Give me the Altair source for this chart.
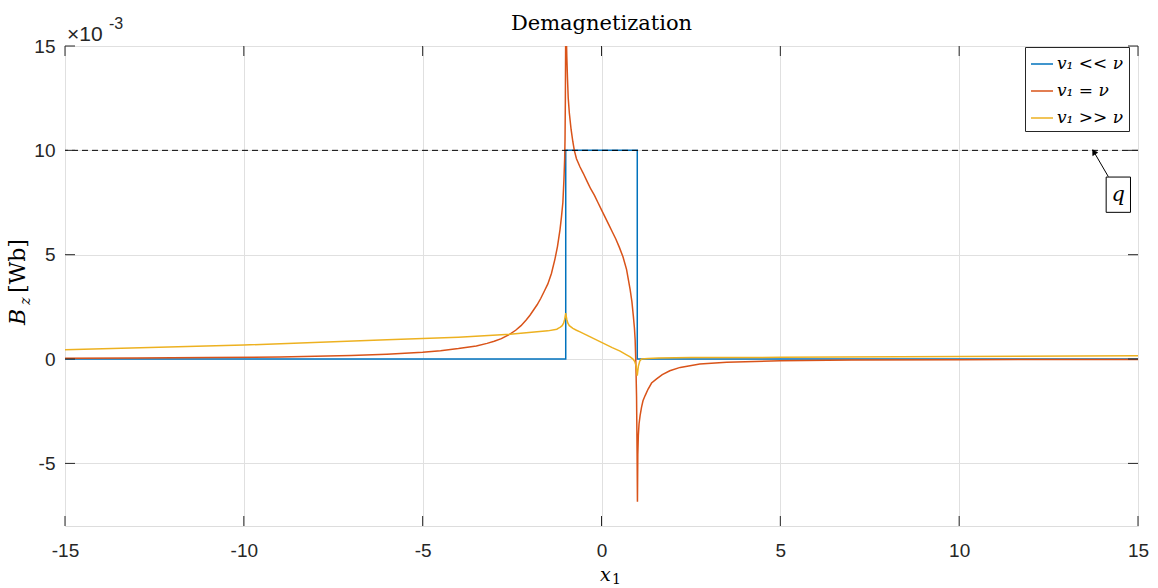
import altair as alt
import pandas as pd

# ---------------- data (y values in units of 1e-3 Wb) ----------------
series_names = ["v₁ << ν", "v₁ = ν", "v₁ >> ν"]
series_colors = ["#0072BD", "#D95319", "#EDB120"]

blue_x = [-15, -1, -1, 1, 1, 15]
blue_y = [0, 0, 10, 10, 0, 0]

orange_x = [-15, -13, -11, -9, -7, -6, -5, -4.5, -4, -3.5, -3.2, -3, -2.8, -2.56, -2.4,
            -2.25, -2.1, -2.0, -1.9, -1.8, -1.7, -1.6, -1.5, -1.4, -1.3, -1.23, -1.16,
            -1.12, -1.08, -1.05, -1.03, -1.02, -1.01, -1.0,
            -0.99, -0.97, -0.95, -0.93, -0.9, -0.85, -0.8, -0.76, -0.7, -0.6, -0.51,
            -0.4, -0.3, -0.2, -0.1, 0.0, 0.1, 0.2, 0.3, 0.4, 0.5, 0.6,
            0.7, 0.8, 0.85, 0.89, 0.92, 0.94, 0.96, 0.98, 0.995, 1.005, 1.015, 1.03,
            1.05, 1.08, 1.12, 1.16, 1.22, 1.3, 1.4, 1.54, 1.7, 1.91, 2.2, 2.75, 3.5,
            5, 7, 10, 15]
orange_y = [0.04, 0.05, 0.07, 0.1, 0.17, 0.23, 0.32, 0.4, 0.5, 0.63, 0.75, 0.85, 0.98,
            1.19, 1.38, 1.6, 1.88, 2.1, 2.35, 2.6, 2.9, 3.25, 3.6, 4.1, 4.8, 5.4, 6.2,
            6.8, 7.5, 8.6, 9.6, 10.5, 12.5, 16,
            16, 14.5, 13.4, 12.5, 11.8, 11.0, 10.4, 10.0, 9.6, 9.2, 8.9,
            8.5, 8.15, 7.85, 7.5, 7.15, 6.8, 6.45, 6.1, 5.75, 5.35, 4.9,
            4.3, 3.34, 2.75, 2.07, 1.5, 0.95, -0.15, -1.8, -4.5, -6.84, -4.6, -3.66,
            -3.1, -2.7, -2.3, -2.0, -1.75, -1.45, -1.15, -0.95, -0.75, -0.56, -0.4,
            -0.24, -0.15, -0.08, -0.05, -0.03, -0.02]

yellow_x = [-15, -10, -6, -4, -2.56, -1.5, -1.25, -1.2, -1.15, -1.1, -1.06, -1.03, -1.0,
            -0.97, -0.94, -0.9, -0.8, -0.7, -0.6, -0.3, 0, 0.3, 0.52, 0.7, 0.8, 0.88,
            0.93, 0.97, 1.0, 1.03, 1.07, 1.12, 1.3, 1.6, 2.5, 5, 10, 15]
yellow_y = [0.45, 0.67, 0.92, 1.05, 1.19, 1.35, 1.43, 1.48, 1.53, 1.6, 1.72, 1.9, 2.2,
            1.9, 1.72, 1.6, 1.47, 1.38, 1.3, 1.05, 0.8, 0.55, 0.38, 0.2, 0.1, 0.0,
            -0.12, -0.35, -0.8, -0.35, -0.1, 0.0, 0.03, 0.05, 0.07, 0.08, 0.12, 0.16]

q_level = [10]
arrow_x = [14.17, 13.78]
arrow_y = [8.74, 9.89]
box_x = [14.11, 14.79]
box_y = [7.03, 8.72]
q_text_pos = [14.45, 7.87]

x_ticks = [-15, -10, -5, 0, 5, 10, 15]
y_ticks = [-5, 0, 5, 10, 15]
x_domain = [-15, 15]
y_domain = [-8, 15]

# ---------------- tables ----------------
rows = []
for name, xs, ys in zip(series_names, [blue_x, orange_x, yellow_x], [blue_y, orange_y, yellow_y]):
    for i, (a, b) in enumerate(zip(xs, ys)):
        rows.append({"series": name, "x": a, "y": b, "i": i})
df = pd.DataFrame(rows)

W, H = 1073, 480
tick_len_x = 10 * (y_domain[1] - y_domain[0]) / H
tick_len_y = 10 * (x_domain[1] - x_domain[0]) / W
tick_rows = []
for t in x_ticks:
    tick_rows.append({"x": t, "x2": t, "y": y_domain[0], "y2": y_domain[0] + tick_len_x})
    tick_rows.append({"x": t, "x2": t, "y": y_domain[1], "y2": y_domain[1] - tick_len_x})
for t in y_ticks:
    tick_rows.append({"x": x_domain[0], "x2": x_domain[0] + tick_len_y, "y": t, "y2": t})
    tick_rows.append({"x": x_domain[1], "x2": x_domain[1] - tick_len_y, "y": t, "y2": t})
ticks_df = pd.DataFrame(tick_rows)

label_font = "Liberation Sans"
tex_font = "DejaVu Serif"
ink = "#262626"

xscale = alt.Scale(domain=x_domain, nice=False, zero=False)
yscale = alt.Scale(domain=y_domain, nice=False, zero=False)
xaxis = alt.Axis(values=x_ticks, title=None, grid=True, ticks=False, domain=False,
                 labelPadding=15, labelFontSize=19, labelFont=label_font,
                 labelColor=ink, gridColor="#e0e0e0", labelFlush=False,
                 labelExpr="'' + datum.value")
yaxis = alt.Axis(values=y_ticks, title=None, grid=True, ticks=False, domain=False,
                 labelPadding=10, labelFontSize=19, labelFont=label_font,
                 labelColor=ink, gridColor="#e0e0e0", labelFlush=False,
                 labelExpr="'' + datum.value")


def X(field="x"):
    return alt.X(f"{field}:Q", scale=xscale, axis=xaxis, title=None)


def Y(field="y"):
    return alt.Y(f"{field}:Q", scale=yscale, axis=yaxis, title=None)


lines = alt.Chart(df).mark_line(strokeWidth=1.5, clip=True).encode(
    x=X(), y=Y(),
    color=alt.Color("series:N",
                    scale=alt.Scale(domain=series_names, range=series_colors),
                    sort=series_names,
                    legend=alt.Legend(title=None, orient="none", legendX=960, legendY=1,
                                      symbolType="stroke", symbolSize=484,
                                      symbolStrokeWidth=1.5, labelFont=tex_font,
                                      labelFontStyle="italic", labelFontSize=17,
                                      labelColor="black", strokeColor=ink,
                                      fillColor="white", padding=5, rowPadding=7,
                                      labelOffset=3, labelLimit=200)),
    order="i:Q",
)

ticks = alt.Chart(ticks_df).mark_rule(color=ink, strokeWidth=1).encode(
    x=X(), x2="x2:Q", y=Y(), y2="y2:Q")

qline = alt.Chart(pd.DataFrame({"y": q_level})).mark_rule(
    color="black", strokeWidth=1, strokeDash=[6, 4]).encode(y=Y())

arrow_df = pd.DataFrame({"x": [arrow_x[0]], "x2": [arrow_x[1]], "y": [arrow_y[0]], "y2": [arrow_y[1]]})
arrow = alt.Chart(arrow_df).mark_rule(color="black", strokeWidth=1).encode(
    x=X(), x2="x2:Q", y=Y(), y2="y2:Q")
head = alt.Chart(pd.DataFrame({"x": [arrow_x[1]], "y": [arrow_y[1]]})).mark_point(
    shape="triangle", angle=329, size=35, filled=True, fill="black", stroke="black",
    strokeWidth=0.5, opacity=1).encode(x=X(), y=Y())

box_df = pd.DataFrame({"x": [box_x[0]], "x2": [box_x[1]], "y": [box_y[0]], "y2": [box_y[1]]})
box = alt.Chart(box_df).mark_rect(fill="white", stroke="black", strokeWidth=1).encode(
    x=X(), x2="x2:Q", y=Y(), y2="y2:Q")
qtext = alt.Chart(pd.DataFrame({"x": [q_text_pos[0]], "y": [q_text_pos[1]], "t": ["q"]})).mark_text(
    font=tex_font, fontStyle="italic", fontSize=21, color="black", baseline="middle").encode(
    x=X(), y=Y(), text="t:N")


def label(text, px, py, size=21, style="normal", angle=0, align="center", font=tex_font,
          baseline="alphabetic", color="black"):
    kw = dict(font=font, fontSize=size, fontStyle=style, color=color, align=align,
              baseline=baseline)
    if angle:
        kw["angle"] = angle
    return alt.Chart(pd.DataFrame({"t": [text]})).mark_text(**kw).encode(
        text="t:N", x=alt.value(px), y=alt.value(py))


title = label("Demagnetization", 536.5, -16, size=21)
xl1 = label("x", 535, 535, size=19, style="italic", align="left")
xl2 = label("1", 547, 538, size=14, align="left")
yl1 = label("B", -40, 271, size=22, style="italic", angle=270)
yl2 = label("z", -35, 255, size=14, style="italic", angle=270)
yl3 = label("[Wb]", -40, 220, size=22, angle=270)
exp1 = label("×10", 2, -5, size=21, align="left", font=label_font, color=ink)
exp2 = label("-3", 44, -17, size=16, align="left", font=label_font, color=ink)

chart = alt.layer(
    lines, qline, ticks, arrow, head, box, qtext,
    title, xl1, xl2, yl1, yl2, yl3, exp1, exp2,
).properties(
    width=W, height=H,
    padding={"left": 65, "top": 46, "right": 20, "bottom": 62},
    autosize=alt.AutoSizeParams(type="none"),
).configure_view(stroke=ink, strokeWidth=1).configure(background="white")

chart.save("out.html", embed_options={"renderer": "svg", "actions": False})
